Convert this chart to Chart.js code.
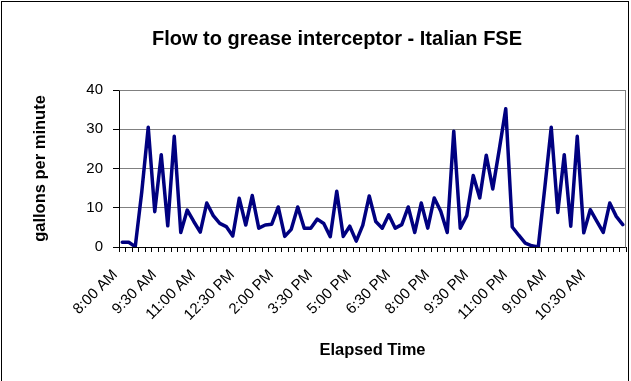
<!DOCTYPE html>
<html>
<head>
<meta charset="utf-8">
<title>Flow to grease interceptor - Italian FSE</title>
<script src="https://cdn.jsdelivr.net/npm/chart.js@4.4.1/dist/chart.umd.min.js"></script>
<style>
  html, body { margin: 0; padding: 0; background: #fff; overflow: hidden; }
  #wrap { position: relative; width: 631px; height: 381px; }
  #wrap canvas { position: absolute; left: 0; top: 0; }
  /* outer chart frame, bottom edge is out of the picture */
  #frame { position: absolute; left: 1px; top: 1px; width: 628px; height: 400px;
           border: 1px solid #000; box-sizing: border-box; pointer-events: none; }
</style>
</head>
<body>
<div id="wrap">
  <canvas id="flowChart" width="631" height="381"></canvas>
  <div id="frame"></div>
</div>

<script>
// ---- data ----
const chartTitle = 'Flow to grease interceptor - Italian FSE';
const xTitle = 'Elapsed Time';
const yTitle = 'gallons per minute';

// one category every 15 min, overnight readings squeezed in
const timeLabels = [
  '8:00 AM', '8:15 AM', '8:30 AM', '8:45 AM', '9:00 AM', '9:15 AM',
  '9:30 AM', '9:45 AM', '10:00 AM', '10:15 AM', '10:30 AM', '10:45 AM',
  '11:00 AM', '11:15 AM', '11:30 AM', '11:45 AM', '12:00 PM', '12:15 PM',
  '12:30 PM', '12:45 PM', '1:00 PM', '1:15 PM', '1:30 PM', '1:45 PM',
  '2:00 PM', '2:15 PM', '2:30 PM', '2:45 PM', '3:00 PM', '3:15 PM',
  '3:30 PM', '3:45 PM', '4:00 PM', '4:15 PM', '4:30 PM', '4:45 PM',
  '5:00 PM', '5:15 PM', '5:30 PM', '5:45 PM', '6:00 PM', '6:15 PM',
  '6:30 PM', '6:45 PM', '7:00 PM', '7:15 PM', '7:30 PM', '7:45 PM',
  '8:00 PM', '8:15 PM', '8:30 PM', '8:45 PM', '9:00 PM', '9:15 PM',
  '9:30 PM', '9:45 PM', '10:00 PM', '10:15 PM', '10:30 PM', '10:45 PM',
  '11:00 PM', '11:15 PM', '11:30 PM', '11:45 PM', '12:00 AM', '8:45 AM',
  '9:00 AM', '9:15 AM', '9:30 AM', '9:45 AM', '10:00 AM', '10:15 AM',
  '10:30 AM', '10:45 AM', '11:00 AM', '11:15 AM', '11:30 AM', '11:45 AM'
];

const flowGpm = [
  1.2, 1.2, 0.1, 14, 30.5, 9, 23.5, 5.4, 28.2, 3.7, 9.4, 6.5,
  3.8, 11.2, 8, 6, 5.2, 2.8, 12.4, 5.6, 13.1, 4.8, 5.6, 5.8,
  10.2, 2.7, 4.5, 10.2, 4.8, 4.8, 7.1, 6, 2.6, 14.2, 2.7, 5.3,
  1.5, 5.5, 13, 6.5, 4.8, 8.2, 4.8, 5.7, 10.2, 3.7, 11.2, 4.8,
  12.5, 9.1, 3.7, 29.5, 4.8, 8, 18.2, 12.5, 23.4, 14.8, 24.8, 35.2,
  5.1, 3, 1, 0.3, 0, 15, 30.5, 8.8, 23.5, 5.3, 28.2, 3.6,
  9.5, 6.6, 3.7, 11.2, 7.8, 5.7
];

const yMin = 0;
const yMax = 40;
const yStep = 5;
const labelEvery = 6; // show every 6th time label

const FONT = 'Arial, "Liberation Sans", sans-serif';

// chart title sits left of centre in the original, draw it ourselves
const fixedTitle = {
  id: 'fixedTitle',
  afterDraw(chart) {
    const ctx = chart.ctx;
    ctx.save();
    ctx.font = 'bold 20px ' + FONT;
    ctx.fillStyle = '#000';
    ctx.textAlign = 'center';
    ctx.textBaseline = 'middle';
    ctx.fillText(chartTitle, 337, 39);
    ctx.restore();
  }
};

// grey plot area border (top + right)
const plotFrame = {
  id: 'plotFrame',
  beforeDatasetsDraw(chart) {
    const { ctx, chartArea: a } = chart;
    ctx.save();
    ctx.strokeStyle = '#808080';
    ctx.lineWidth = 1;
    ctx.beginPath();
    ctx.moveTo(Math.round(a.left) + 0.5, Math.round(a.top) + 0.5);
    ctx.lineTo(Math.round(a.right) - 0.5, Math.round(a.top) + 0.5);
    ctx.lineTo(Math.round(a.right) - 0.5, Math.round(a.bottom) + 0.5);
    ctx.stroke();
    ctx.restore();
  }
};

function renderChart() {
  const ctx = document.getElementById('flowChart');

  new Chart(ctx, {
    type: 'line',
    data: {
      labels: timeLabels,
      datasets: [{
        label: yTitle,
        data: flowGpm,
        borderColor: '#000080',
        backgroundColor: '#000080',
        borderWidth: 3.5,
        borderJoinStyle: 'round',
        borderCapStyle: 'round',
        tension: 0,
        pointRadius: 0,
        fill: false
      }]
    },
    options: {
      responsive: false,
      animation: false,
      devicePixelRatio: 1,
      layout: { padding: { top: 90, right: 5, bottom: 0, left: 0 } },
      plugins: {
        legend: { display: false },
        title: { display: false },
        tooltip: { enabled: false }
      },
      scales: {
        x: {
          type: 'category',
          offset: true,
          grid: {
            offset: true,
            drawOnChartArea: false,
            drawTicks: true,
            tickLength: 5,
            tickColor: '#000'
          },
          border: { color: '#000', width: 1 },
          ticks: {
            autoSkip: false,
            maxRotation: 45,
            minRotation: 45,
            padding: 14,
            labelOffset: -7,
            color: '#000',
            font: { family: FONT, size: 15 },
            callback: (val, i) => (i % labelEvery === 0 ? timeLabels[i] : '')
          },
          title: {
            display: true,
            text: xTitle,
            color: '#000',
            font: { family: FONT, size: 16.5, weight: 'bold' },
            padding: { top: 0, bottom: 21 }
          },
          // keep the plot area where the original has it
          afterFit: (scale) => {
            scale.height = 134;
            scale.paddingLeft = 0;
            scale.paddingRight = 0;
          }
        },
        y: {
          min: yMin,
          max: yMax,
          grid: {
            color: '#808080',
            tickColor: '#000',
            tickLength: 6
          },
          border: { color: '#000', width: 1 },
          ticks: {
            stepSize: yStep,
            padding: 10,
            color: '#000',
            font: { family: FONT, size: 15 }
          },
          title: {
            display: true,
            text: yTitle,
            color: '#000',
            font: { family: FONT, size: 16.5, weight: 'bold' },
            padding: { top: 31, bottom: 0 }
          },
          afterFit: (scale) => {
            scale.width = 119;
            scale.paddingTop = 0;
            scale.paddingBottom = 0;
          }
        }
      }
    },
    plugins: [plotFrame, fixedTitle]
  });
}

document.addEventListener('DOMContentLoaded', renderChart);
</script>
</body>
</html>
